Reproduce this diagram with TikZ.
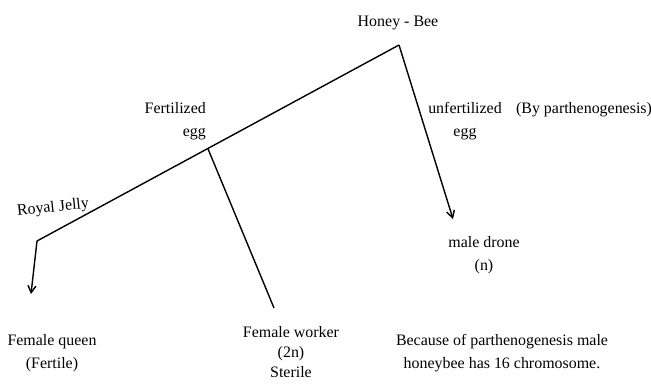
\documentclass[tikz,border=0pt]{standalone}
\usepackage{fontspec}
\setmainfont{Liberation Serif}
\usetikzlibrary{arrows.meta,calc}

\begin{document}
\begin{tikzpicture}[
   x=1bp,y=-1bp,
   lbl/.style={inner sep=0pt,align=center,font=\fontsize{16}{23}\selectfont},
   branch/.style={line width=1.4pt},
   arr/.style={branch,-{Straight Barb[length=7pt,width=8pt]}}
  ]
  \useasboundingbox (0,0) rectangle (651,385);

  % tree points
  \coordinate (top)    at (399,45);
  \coordinate (jelly)  at (37,241);
  \coordinate (fert)   at ($(jelly)!0.472!(top)$);
  \coordinate (queen)  at (31,294);
  \coordinate (worker) at (274,308);
  \coordinate (drone)  at (453,219);

  \node[lbl] (bee) at (398,23) {Honey - Bee};
  \node[lbl,anchor=east,align=right] (fertlbl) at (206,121.5) {Fertilized\\egg};
  \node[lbl] (unfertlbl) at (465,121.5) {unfertilized\\egg};
  \node[lbl] (parth) at (584,110) {(By parthenogenesis)};
  \node[lbl,rotate=6] (royal) at (53,208) {Royal Jelly};
  \node[lbl] (dronelbl) at (484,255) {male drone\\(n)};
  \node[lbl] (queenlbl) at (52,353.5) {Female queen\\(Fertile)};
  \node[lbl,font=\fontsize{16}{20.5}\selectfont] (workerlbl) at (291,352) {Female worker\\(2n)\\Sterile};
  \node[lbl] (note) at (502,353.5) {Because of parthenogenesis male\\honeybee has 16 chromosome.};

  \draw[branch] (jelly) -- (top);
  \draw[branch] (fert) -- (worker);
  \draw[arr] (jelly) -- (queen);
  \draw[arr] (top) -- (drone);
\end{tikzpicture}
\end{document}
